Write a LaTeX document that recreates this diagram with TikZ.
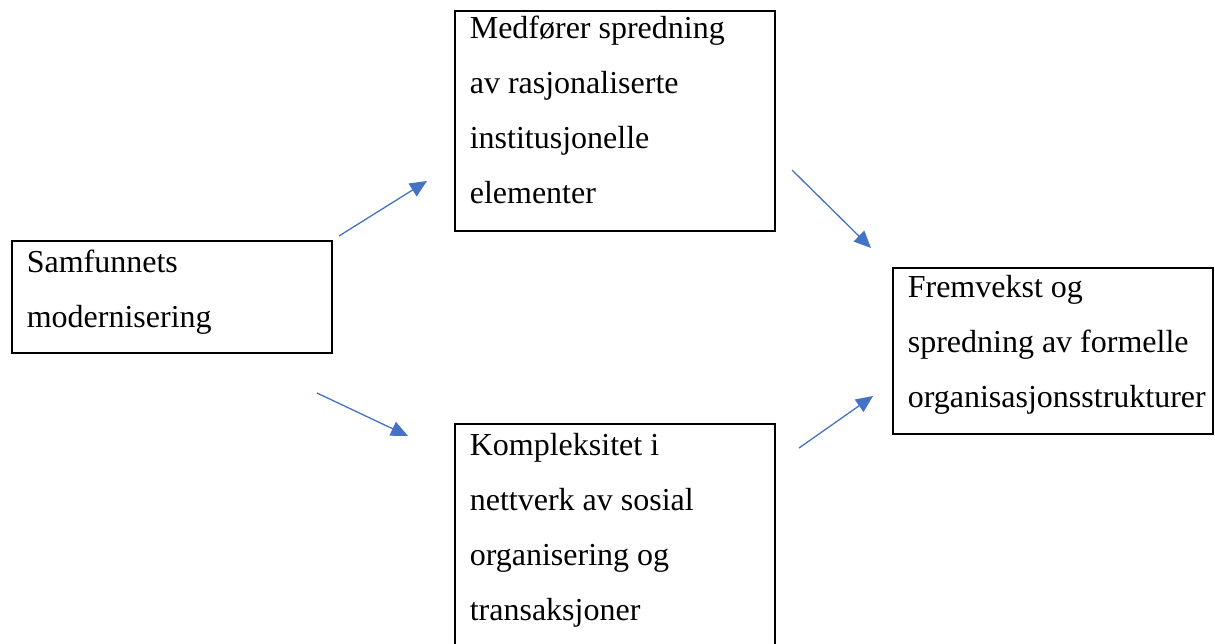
\documentclass[tikz,border=0pt]{standalone}
\usepackage{fontspec}
\setmainfont{Liberation Serif}
\usetikzlibrary{arrows.meta}
\definecolor{linkblue}{RGB}{68,114,196}

\begin{document}
\begin{tikzpicture}[
    x=1pt, y=-1pt,
    box/.style={draw,line width=1.6pt,anchor=north west,inner xsep=15pt,inner ysep=0pt,
      text width=290pt,align=flush left,font=\fontsize{32}{55}\selectfont},
    link/.style={draw=linkblue,line width=1.3pt,-{Triangle[length=17pt,width=15pt]}}]
  \useasboundingbox (0,0) rectangle (1215,643);
  \node[box,text height=32pt,text depth=80pt] (samf) at (11,240)
    {Samfunnets\\modernisering};
  \node[box,text height=28pt,text depth=192pt] (medf) at (454,10)
    {Medfører spredning\\av rasjonaliserte\\institusjonelle\\elementer};
  \node[box,text height=32pt,text depth=205pt] (kompl) at (454,423)
    {Kompleksitet i\\nettverk av sosial\\organisering og\\transaksjoner};
  \node[box,text height=30pt,text depth=136pt] (fremv) at (892,267)
    {Fremvekst og\\spredning av formelle\\organisasjonsstrukturer};
  % loose arrow ends between the boxes
  \coordinate (s1) at (339,236);
  \coordinate (e1) at (427,181);
  \coordinate (s2) at (317,393);
  \coordinate (e2) at (408,436);
  \coordinate (s3) at (792,170);
  \coordinate (e3) at (871,248);
  \coordinate (s4) at (799,448);
  \coordinate (e4) at (873,396);
  \draw[link] (s1) -- (e1);
  \draw[link] (s2) -- (e2);
  \draw[link] (s3) -- (e3);
  \draw[link] (s4) -- (e4);
\end{tikzpicture}
\end{document}
